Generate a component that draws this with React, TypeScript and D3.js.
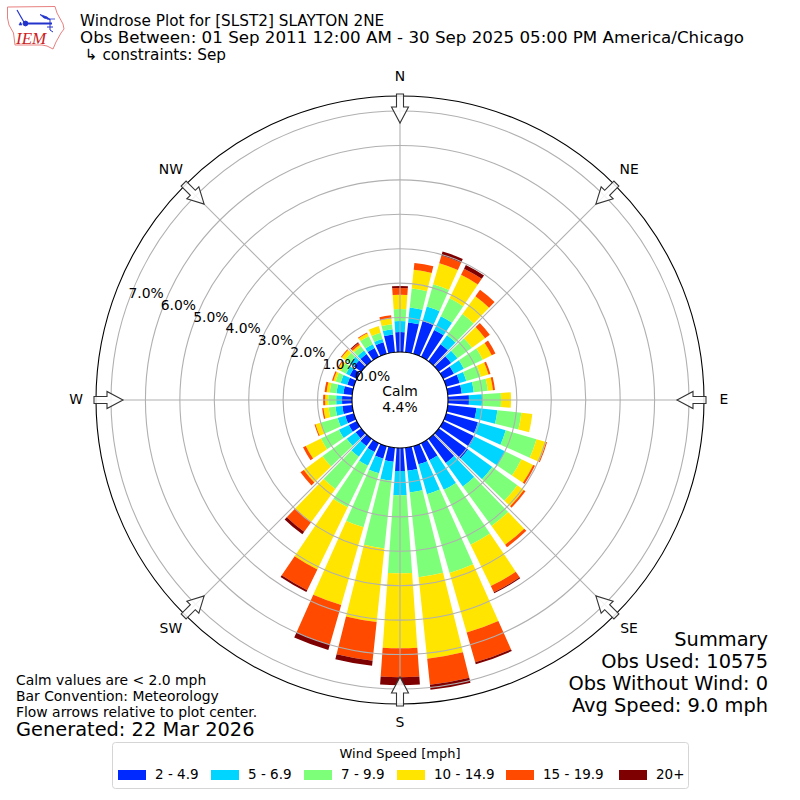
import React from "react";
import * as d3 from "d3";

const directions = d3.range(0, 360, 10);
const speedBins = ["2 - 4.9", "5 - 6.9", "7 - 9.9", "10 - 14.9", "15 - 19.9", "20+"];
const binColors = ["#0029ff", "#00d5ff", "#7dff7a", "#ffe500", "#ff4a00", "#7f0000"];

const bin1 = [.58,.87,.99,.87,.61,.44,.35,.41,.41,.61,.84,.96,1.02,1.05,.87,.55,.55,.67,.67,.41,.38,.29,.26,.20,.26,.26,.29,.29,.26,.20,.23,.26,.26,.29,.35,.52];
const bin2 = [.32,.44,.44,.44,.32,.23,.32,.20,.35,.38,.61,.84,.99,.87,.84,.96,.90,.64,.70,.55,.44,.44,.38,.32,.32,.23,.20,.17,.20,.20,.12,.15,.12,.12,.10,.15];
const bin3 = [.35,.55,.67,.58,.76,.52,.61,.44,.41,.55,.70,.93,.52,.90,1.42,1.77,2.38,2.47,2.27,1.98,1.63,1.34,1.16,.87,.58,.52,.20,.23,.20,.15,.17,.17,.15,.26,.19,.15];
const bin4 = [.41,.55,.64,.76,.64,.47,.29,.23,.15,.29,.32,.29,.38,.23,.67,1.34,1.80,2.38,2.18,2.15,2.35,2.01,1.19,.67,.49,.15,.15,.09,.09,.07,.09,.12,.06,.09,.20,.17];
const bin5 = [.20,.20,.23,.20,.23,.17,.12,.06,.06,0,0,.03,.06,.06,.09,.20,.90,.76,.84,1.13,1.19,.67,.35,.12,.09,.03,.04,.06,.06,.04,.03,.03,.06,.03,0,.09];
const bin6 = [.06,0,.12,.12,0,0,0,0,0,0,0,0,0,0,0,.03,.06,.15,.23,.15,.17,.06,.09,0,0,0,0,0,0,0,0,0,.03,0,0,0];
const binValues = [bin1, bin2, bin3, bin4, bin5, bin6];

const radialTicks = [0, 1, 2, 3, 4, 5, 6, 7];
const compass = ["N", "NE", "E", "SE", "S", "SW", "W", "NW"];
const titleLines = [
  "Windrose Plot for [SLST2] SLAYTON 2NE",
  "Obs Between: 01 Sep 2011 12:00 AM - 30 Sep 2025 05:00 PM America/Chicago",
  " \u21b3 constraints: Sep",
];
const noteLines = ["Calm values are < 2.0 mph", "Bar Convention: Meteorology", "Flow arrows relative to plot center."];
const summaryLines = ["Summary", "Obs Used: 10575", "Obs Without Wind: 0", "Avg Speed: 9.0 mph"];
const calmPct = "4.4%";

const cx = 400, cy = 400;
const rad = (d: number) => (d * Math.PI) / 180;
const r = d3.scaleLinear().domain([0, 7]).range([48, 289]);
const outerR = 304;
const font = "'DejaVu Sans', sans-serif";

const arcGen = d3.arc();

function polar(deg: number, radius: number): [number, number] {
  return [cx + radius * Math.sin(rad(deg)), cy - radius * Math.cos(rad(deg))];
}

function arrowPath(deg: number) {
  // tail at the rim, tip pointing to the centre
  const pts: [number, number][] = [
    [306, -3.5], [293, -3.5], [293, -8.5], [277, 0], [293, 8.5], [293, 3.5], [306, 3.5],
  ];
  const a = rad(deg);
  return (
    "M" +
    pts
      .map(([rr, o]) => {
        const x = cx + rr * Math.sin(a) + o * Math.cos(a);
        const y = cy - rr * Math.cos(a) + o * Math.sin(a);
        return `${x.toFixed(2)},${y.toFixed(2)}`;
      })
      .join("L") +
    "Z"
  );
}

function Logo() {
  return (
    <g>
      <path
        d="M7.5,7 L55,6.5 L57,13 L63,24 L64,29 L61,33 L56,42 L53,49 L47,46 L42,45 L15,45 L13.5,33 L9,25 L7.5,18 Z"
        fill="none"
        stroke="#e88080"
        strokeWidth={1}
      />
      <g stroke="#2233cc" fill="#2233cc">
        <path d="M17,10 L25,24" strokeWidth={1.2} fill="none" />
        <path d="M25,23.5 L52,23.5" strokeWidth={2} fill="none" />
        <circle cx={25.5} cy={23.5} r={2.4} />
        <path d="M40,14.5 L47,17 L50,19.5 L44,18 Z" strokeWidth={0.8} />
        <path d="M47,19 L55,19" strokeWidth={0.8} fill="none" />
        <path d="M50,19 L50,30 M47,27 L53,27 M50,30 L53,32" strokeWidth={1} fill="none" />
        <path d="M19,25 L22,25 L20.5,22 Z" strokeWidth={0.6} />
      </g>
      <text x={16} y={44} fontFamily="'Liberation Serif', serif" fontStyle="italic" fontSize={17} fill="#cc2222">IEM</text>
    </g>
  );
}

export default function App() {
  const stacks = directions.map((dir, i) => {
    let acc = 0;
    return binValues.map((vals, b) => {
      const start = acc;
      acc += vals[i];
      return { dir, b, start, end: acc };
    });
  });

  const legendSwatchX = [118, 211, 304, 397, 506, 619];

  return (
    <svg width={800} height={800} style={{ position: "absolute", left: 0, top: 0, display: "block", background: "#fff" }} fontFamily={font}>
      <Logo />
      {titleLines.map((t, i) => (
        <text key={t} x={80} y={26 + i * 17.2} fontSize={15.25} fill="#000" textLength={i === 1 ? 664 : undefined} lengthAdjust="spacingAndGlyphs" style={{ whiteSpace: "pre" }}>{t}</text>
      ))}

      <g>
        {stacks.flat().filter((s) => s.end > s.start).map((s) => (
          <path
            key={`${s.dir}-${s.b}`}
            transform={`translate(${cx},${cy})`}
            fill={binColors[s.b]}
            d={arcGen({
              innerRadius: r(s.start),
              outerRadius: r(s.end),
              startAngle: rad(s.dir - 4),
              endAngle: rad(s.dir + 4),
            } as any) as string}
          />
        ))}
      </g>

      <g fill="none" stroke="#b0b0b0" strokeWidth={1.1}>
        {radialTicks.slice(1).map((t) => (
          <circle key={t} cx={cx} cy={cy} r={r(t)} />
        ))}
        {compass.map((c, i) => {
          const a = polar(i * 45, r(0));
          const b = polar(i * 45, outerR);
          return <line key={c} x1={a[0]} y1={a[1]} x2={b[0]} y2={b[1]} />;
        })}
      </g>

      <circle cx={cx} cy={cy} r={r(0)} fill="#fff" stroke="#000" strokeWidth={1.1} />
      <circle cx={cx} cy={cy} r={outerR} fill="none" stroke="#000" strokeWidth={1.1} />

      {compass.map((c, i) => (
        <path key={c} d={arrowPath(i * 45)} fill="#fff" fillOpacity={0.85} stroke="#333" strokeWidth={1.1} />
      ))}

      {compass.map((c, i) => {
        const [x, y] = polar(i * 45, i === 4 ? 323 : 324);
        const dy = i === 0 ? 0 : i === 1 || i === 7 ? -2 : -1;
        return (
          <text key={c} x={x} y={y + dy} fontSize={13.9} textAnchor="middle" dominantBaseline="central" fill="#000">{c}</text>
        );
      })}

      {radialTicks.map((t) => {
        const [x, y] = polar(290, r(t));
        return (
          <text key={t} x={x} y={y - 8} fontSize={13.9} textAnchor="start" dominantBaseline="central" fill="#000">{`${t.toFixed(1)}%`}</text>
        );
      })}

      <text x={cx} y={391} fontSize={13.9} textAnchor="middle" dominantBaseline="central">Calm</text>
      <text x={cx} y={407} fontSize={13.9} textAnchor="middle" dominantBaseline="central">{calmPct}</text>

      {noteLines.map((t, i) => (
        <text key={t} x={16} y={685 + i * 16} fontSize={13.9}>{t}</text>
      ))}
      <text x={16} y={736} fontSize={19.4}>Generated: 22 Mar 2026</text>

      {summaryLines.map((t, i) => (
        <text key={t} x={768} y={646 + i * 22} fontSize={19.4} textAnchor="end">{t}</text>
      ))}

      <rect x={112.5} y={742.5} width={576} height={46} rx={3} fill="#fff" stroke="#d5d5d5" strokeWidth={1} />
      <text x={400} y={758} fontSize={13} textAnchor="middle">Wind Speed [mph]</text>
      {speedBins.map((b, i) => (
        <g key={b}>
          <rect x={legendSwatchX[i]} y={770} width={28} height={10} fill={binColors[i]} />
          <text x={legendSwatchX[i] + 37} y={779} fontSize={13.5}>{b}</text>
        </g>
      ))}
    </svg>
  );
}
